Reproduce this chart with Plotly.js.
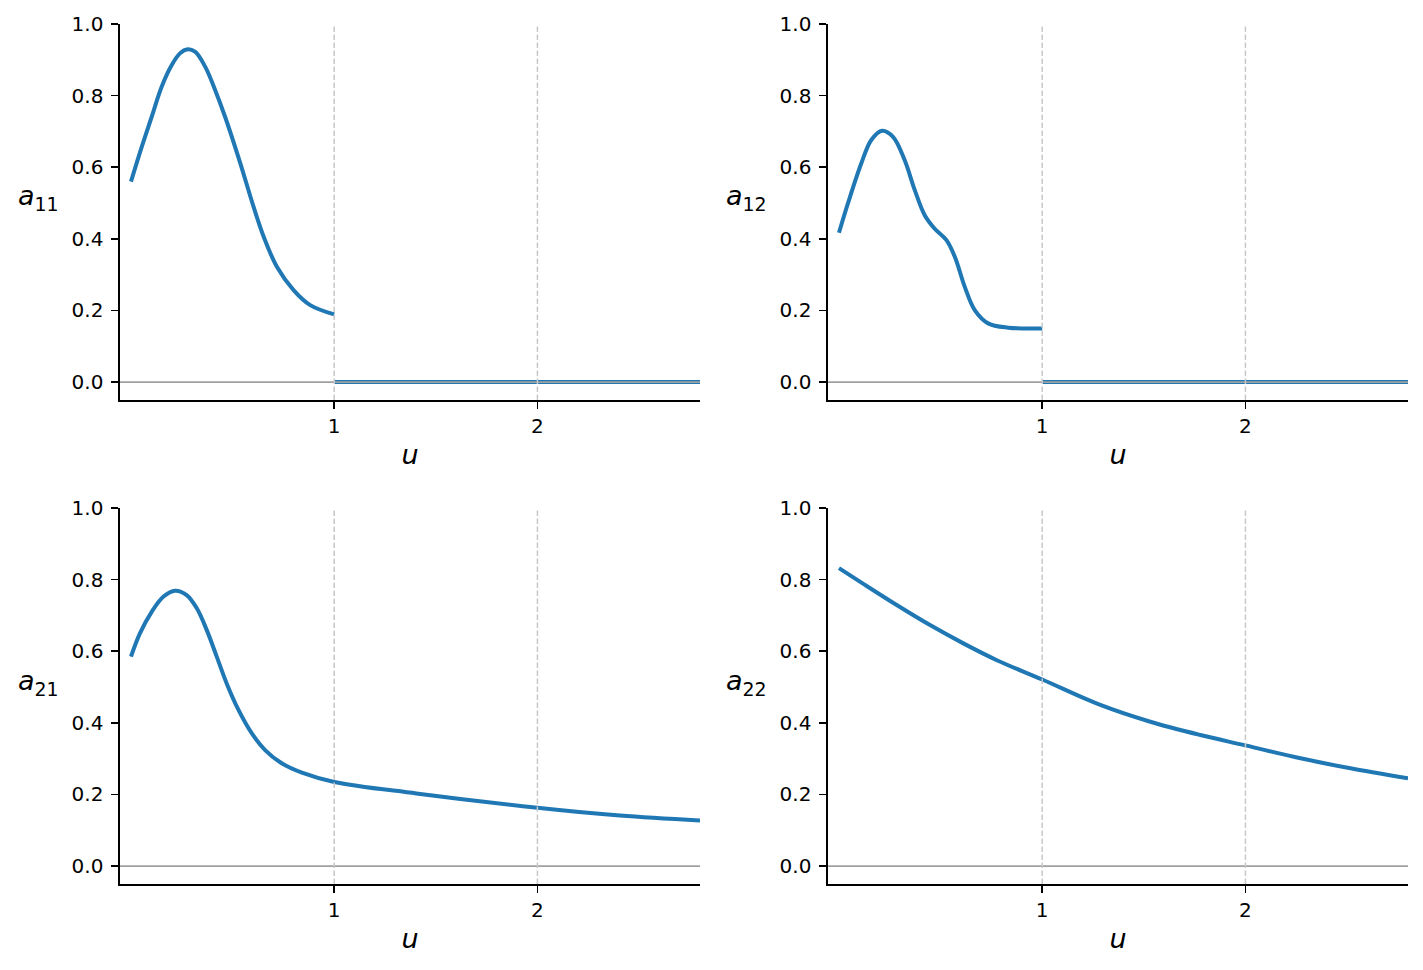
<!DOCTYPE html>
<html>
<head>
<meta charset="utf-8">
<script src="https://cdn.plot.ly/plotly-3.0.1.min.js"></script>
<style>html,body{margin:0;padding:0;background:#fff;}#chart{width:1423px;height:970px;}</style>
</head>
<body>
<div id="chart"></div>
<script>
// ---- data ----
const u11 = [0, 0.053, 0.102, 0.151, 0.2, 0.241, 0.274, 0.315, 0.365, 0.414, 0.463, 0.538, 0.603, 0.653, 0.718, 0.8, 0.882, 1.0];
const a11 = [0.560, 0.657, 0.741, 0.825, 0.885, 0.918, 0.929, 0.923, 0.881, 0.816, 0.741, 0.611, 0.490, 0.406, 0.322, 0.257, 0.215, 0.189];

const u12 = [0, 0.044, 0.11, 0.159, 0.212, 0.266, 0.323, 0.373, 0.422, 0.47, 0.528, 0.57, 0.619, 0.668, 0.734, 0.833, 1.0];
const a12 = [0.417, 0.499, 0.611, 0.676, 0.702, 0.685, 0.620, 0.536, 0.466, 0.429, 0.397, 0.350, 0.266, 0.201, 0.164, 0.152, 0.150];

const u21 = [0, 0.044, 0.102, 0.159, 0.217, 0.274, 0.324, 0.373, 0.422, 0.471, 0.529, 0.594, 0.66, 0.742, 0.841, 1.0, 1.404, 2.0, 2.406, 2.8];
const a21 = [0.585, 0.650, 0.710, 0.752, 0.769, 0.757, 0.720, 0.659, 0.585, 0.510, 0.436, 0.371, 0.324, 0.287, 0.261, 0.235, 0.203, 0.163, 0.141, 0.127];

const u22 = [0, 0.12, 0.284, 0.448, 0.612, 0.777, 1.0, 1.286, 1.532, 1.778, 2.0, 2.271, 2.517, 2.8];
const a22 = [0.832, 0.788, 0.729, 0.673, 0.622, 0.575, 0.521, 0.450, 0.403, 0.366, 0.337, 0.301, 0.273, 0.245];

// zero part of a11 and a12 for u >= 1
const uZero = [1.0, 2.8];
const aZero = [0, 0];

const xTickVals = [1, 2];
const xTickText = ['1', '2'];
const yTickVals = [0, 0.2, 0.4, 0.6, 0.8, 1.0];
const yTickText = ['0.0', '0.2', '0.4', '0.6', '0.8', '1.0'];
const yLabels = ['<i>a</i><sub>11</sub>', '<i>a</i><sub>12</sub>', '<i>a</i><sub>21</sub>', '<i>a</i><sub>22</sub>'];
const vLines = [1, 2];

// ---- layout geometry ----
const W = 1423, H = 970;
const colsPx = [[120, 700], [828, 1408]];
const rowsPx = [[24, 400], [508, 884]];
const BLUE = '#1f77b4';
const FONT = 'DejaVu Sans, sans-serif';

const traces = [];
function addLine(x, y, k) {
  traces.push({x: x, y: y, type: 'scatter', mode: 'lines',
    line: {color: BLUE, width: 4.0, shape: 'spline', smoothing: 1.0},
    xaxis: 'x' + (k === 1 ? '' : k), yaxis: 'y' + (k === 1 ? '' : k),
    hoverinfo: 'skip', showlegend: false});
}
addLine(u11, a11, 1);
addLine(uZero, aZero, 1);
addLine(u12, a12, 2);
addLine(uZero, aZero, 2);
addLine(u21, a21, 3);
addLine(u22, a22, 4);

const layout = {
  width: W, height: H,
  margin: {l: 0, r: 0, t: 0, b: 0},
  paper_bgcolor: '#fff', plot_bgcolor: '#fff',
  font: {family: FONT, color: '#000', size: 20},
  showlegend: false,
  shapes: [], annotations: []
};

for (let k = 1; k <= 4; k++) {
  const r = k <= 2 ? 0 : 1;
  const c = (k - 1) % 2;
  const xs = k === 1 ? '' : String(k);
  const xd = [colsPx[c][0] / W, colsPx[c][1] / W];
  const yd = [1 - rowsPx[r][1] / H, 1 - rowsPx[r][0] / H];
  layout['xaxis' + xs] = {
    domain: xd, anchor: 'y' + xs, range: [-0.054, 2.8],
    tickmode: 'array', tickvals: xTickVals, ticktext: xTickText,
    ticks: 'outside', ticklen: 7, tickwidth: 1.6, tickcolor: '#000',
    showline: true, linecolor: '#000', linewidth: 1.6, mirror: false,
    showgrid: false, zeroline: false,
    tickfont: {family: FONT, size: 20, color: '#000'},
    title: {text: '<i>u</i>', font: {family: FONT, size: 27, color: '#000'}, standoff: 8}
  };
  layout['yaxis' + xs] = {
    domain: yd, anchor: 'x' + xs, range: [-0.05, 1.0],
    tickmode: 'array', tickvals: yTickVals, ticktext: yTickText,
    ticks: 'outside', ticklen: 7, tickwidth: 1.6, tickcolor: '#000',
    ticklabelstandoff: 4,
    showline: true, linecolor: '#000', linewidth: 1.6, mirror: false,
    showgrid: false, zeroline: false,
    tickfont: {family: FONT, size: 20, color: '#000'}
  };
  const xr = 'x' + xs, yr = 'y' + xs;
  layout.shapes.push({type: 'line', xref: xr + ' domain', yref: yr, x0: 0, x1: 1, y0: 0, y1: 0,
    line: {color: '#a0a0a0', width: 1.6}, layer: 'above'});
  vLines.forEach(v => layout.shapes.push({type: 'line', xref: xr, yref: yr + ' domain', x0: v, x1: v, y0: 0, y1: 1,
    line: {color: '#c8c8c8', width: 1.5, dash: '5.5px,2.5px'}, layer: 'above'}));
  layout.annotations.push({
    text: yLabels[k - 1], xref: 'paper', yref: 'paper',
    x: (colsPx[c][0] - 59) / W, xanchor: 'right',
    y: 1 - (rowsPx[r][0] + 174) / H, yanchor: 'middle',
    showarrow: false, font: {family: FONT, size: 27, color: '#000'}
  });
}

Plotly.newPlot('chart', traces, layout, {staticPlot: true, displayModeBar: false});
</script>
</body>
</html>
